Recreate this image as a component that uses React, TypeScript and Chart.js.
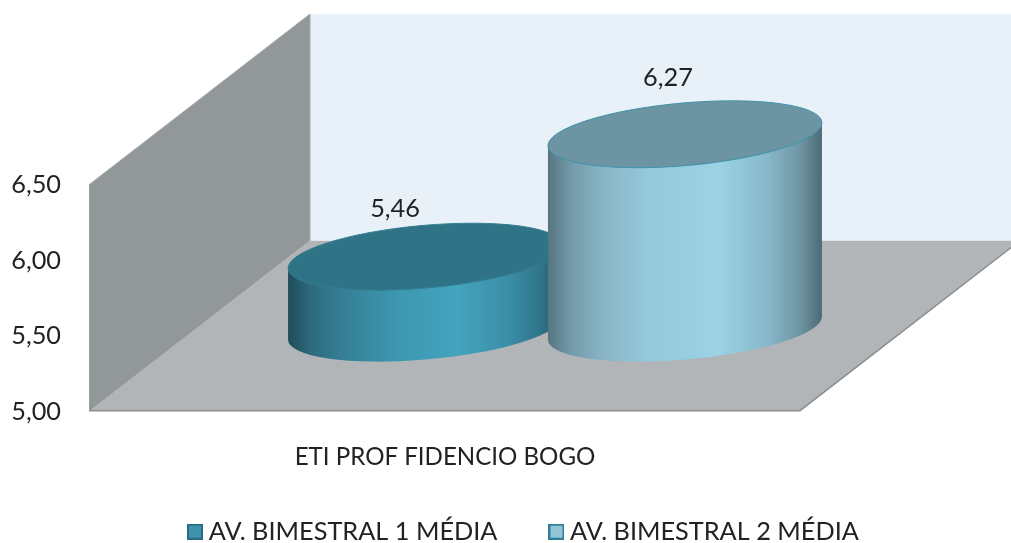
import React, { useEffect, useRef } from "react";
import { Chart, registerables } from "chart.js";

Chart.register(...registerables);

const categories = ["ETI PROF FIDENCIO BOGO"];
const seriesNames = ["AV. BIMESTRAL 1 MÉDIA", "AV. BIMESTRAL 2 MÉDIA"];
const bimestral1 = [5.46];
const bimestral2 = [6.27];
const legendFill = ["#3E94AE", "#93C5D9"];
const legendEdge = ["#2B6C80", "#2F7F96"];
const topFill = ["#2F7386", "#6C94A3"];
const topEdge = ["#337D91", "#3F93AB"];
const sideStops: [number, string][][] = [
  [[0, "#1F4C5A"], [0.08, "#2C6A7C"], [0.2, "#357F95"], [0.4, "#3D97B1"], [0.62, "#44A3BD"], [0.8, "#3A8FA8"], [0.93, "#2F7388"], [1, "#204F5E"]],
  [[0, "#56757F"], [0.08, "#7299A8"], [0.2, "#88B4C5"], [0.36, "#94C8DB"], [0.62, "#9BD2E4"], [0.8, "#88B8CB"], [0.92, "#6F95A4"], [1, "#4C6A74"]],
];
const labelShift = [[-30, 48], [-17, 56.5]];

const FONT = "Lato";
const FONT_SIZE = 25.3;
const X_FONT_SIZE = 24.1;
const DEPTH_X = 220;
const DEPTH_Y = 170;
const SHIFT_X = 110;
const SHIFT_TOP = 84.5;
const SHIFT_BASE = 82.5;
const RX = 137.5;
const RY = 31.3;
const TILT = (-5.06 * Math.PI) / 180;
const HALF_W = 137;
const SIDE_DY = 11.5;
const SIDE_T = 0.02;
const X_AXIS_H = 70;
const BOTTOM_PAD = -31;

const scene = {
  id: "scene3d",
  afterLayout(chart: any) {
    const lg = chart.legend;
    if (lg) {
      const p = lg.options.labels.padding;
      lg.left = 194 - p;
      lg.right = 1011;
      lg.top = 519 - p;
    }
  },
  beforeDatasetsDraw(chart: any) {
    const { ctx, chartArea: a } = chart;
    const poly = (pts: number[][], fill: string, edge?: string) => {
      ctx.beginPath();
      pts.forEach((p, i) => (i ? ctx.lineTo(p[0], p[1]) : ctx.moveTo(p[0], p[1])));
      ctx.closePath();
      ctx.fillStyle = fill;
      ctx.fill();
      if (edge) {
        ctx.strokeStyle = edge;
        ctx.lineWidth = 1;
        ctx.stroke();
      }
    };
    const l = a.left, r = a.right, t = a.top, b = a.bottom;
    ctx.save();
    poly([[l + DEPTH_X, t - DEPTH_Y], [r + DEPTH_X, t - DEPTH_Y], [r + DEPTH_X, b - DEPTH_Y], [l + DEPTH_X, b - DEPTH_Y]], "#E8F0F8");
    poly([[l, t], [l + DEPTH_X, t - DEPTH_Y], [l + DEPTH_X, b - DEPTH_Y], [l, b]], "#92979A", "#A6AAAC");
    poly([[l, b], [r, b], [r + DEPTH_X, b - DEPTH_Y], [l + DEPTH_X, b - DEPTH_Y]], "#B1B5B8");
    ctx.strokeStyle = "#8A8E90";
    ctx.lineWidth = 1.5;
    ctx.beginPath();
    ctx.moveTo(l, t);
    ctx.lineTo(l, b);
    ctx.lineTo(r, b);
    ctx.lineTo(r + DEPTH_X, b - DEPTH_Y);
    ctx.stroke();
    ctx.restore();
  },
  beforeDatasetDraw() {
    return false;
  },
  afterDatasetsDraw(chart: any) {
    const { ctx, scales } = chart;
    const yBase = scales.y.getPixelForValue(5);
    chart.data.datasets.forEach((ds: any, i: number) => {
      const el = chart.getDatasetMeta(i).data[0];
      const cx = el.x + SHIFT_X;
      const topY = scales.y.getPixelForValue(ds.data[0]) - SHIFT_TOP;
      const baseY = yBase - SHIFT_BASE;
      const g = ctx.createLinearGradient(cx - HALF_W, 0, cx + HALF_W, 0);
      sideStops[i].forEach(([o, c]) => g.addColorStop(o, c));
      ctx.save();
      ctx.beginPath();
      ctx.moveTo(cx - HALF_W, topY + SIDE_DY);
      ctx.lineTo(cx - HALF_W, baseY + SIDE_DY);
      ctx.ellipse(cx, baseY, RX, RY, TILT, Math.PI + SIDE_T, SIDE_T, true);
      ctx.lineTo(cx + HALF_W, topY - SIDE_DY);
      ctx.closePath();
      ctx.fillStyle = g;
      ctx.fill();
      ctx.beginPath();
      ctx.ellipse(cx, topY, RX, RY, TILT, 0, Math.PI * 2);
      ctx.fillStyle = topFill[i];
      ctx.fill();
      ctx.strokeStyle = topEdge[i];
      ctx.lineWidth = 1;
      ctx.stroke();
      ctx.fillStyle = "#222222";
      ctx.font = `${FONT_SIZE}px ${FONT}`;
      ctx.textAlign = "center";
      ctx.textBaseline = "middle";
      ctx.fillText(String(ds.data[0].toFixed(2)).replace(".", ","), cx + labelShift[i][0], topY - labelShift[i][1]);
      ctx.restore();
    });
  },
};

function swatch(i: number) {
  const c = document.createElement("canvas");
  c.width = 16;
  c.height = 16;
  const x = c.getContext("2d")!;
  x.fillStyle = legendFill[i];
  x.fillRect(0, 0, 16, 16);
  x.strokeStyle = legendEdge[i];
  x.lineWidth = 2;
  x.strokeRect(1, 1, 14, 14);
  return c;
}

export default function App() {
  const ref = useRef<HTMLCanvasElement>(null);
  useEffect(() => {
    const swatches = [swatch(0), swatch(1)];
    const chart = new Chart(ref.current!, {
      type: "bar",
      data: {
        labels: categories,
        datasets: [
          { label: seriesNames[0], data: bimestral1, backgroundColor: legendFill[0] },
          { label: seriesNames[1], data: bimestral2, backgroundColor: legendFill[1] },
        ],
      },
      plugins: [scene],
      options: {
        responsive: false,
        animation: false,
        layout: { padding: { top: 184, right: 211, left: 0, bottom: BOTTOM_PAD } },
        datasets: { bar: { categoryPercentage: 0.732, barPercentage: 1 } },
        plugins: {
          tooltip: { enabled: false },
          legend: {
            display: true,
            position: "bottom",
            align: "start",
            labels: {
              usePointStyle: true,
              boxWidth: 2,
              boxHeight: 16,
              padding: 58,
              color: "#222222",
              font: { family: FONT, size: FONT_SIZE },
              generateLabels: (c: any) =>
                c.data.datasets.map((d: any, i: number) => ({
                  text: d.label,
                  pointStyle: swatches[i],
                  fontColor: "#222222",
                  datasetIndex: i,
                  hidden: false,
                  lineWidth: 0,
                })),
            },
          },
        },
        scales: {
          x: {
            grid: { display: false },
            border: { display: false },
            ticks: { padding: 24, autoSkip: false, color: "#222222", font: { family: FONT, size: X_FONT_SIZE }, maxRotation: 0 },
            afterFit: (s: any) => {
              s.height = X_AXIS_H;
            },
          },
          y: {
            min: 5,
            max: 6.5,
            grid: { display: false },
            border: { display: false },
            ticks: {
              stepSize: 0.5,
              padding: 21,
              labelOffset: 1,
              color: "#222222",
              font: { family: FONT, size: FONT_SIZE },
              callback: (v: any) => Number(v).toFixed(2).replace(".", ","),
            },
            afterFit: (s: any) => {
              s.width = 90;
            },
          },
        },
      } as any,
    });
    return () => chart.destroy();
  }, []);
  return (
    <div style={{ position: "fixed", left: 0, top: 0, width: 1011, height: 543, background: "#fff" }}>
      <canvas ref={ref} width={1011} height={543} style={{ display: "block" }} />
    </div>
  );
}
